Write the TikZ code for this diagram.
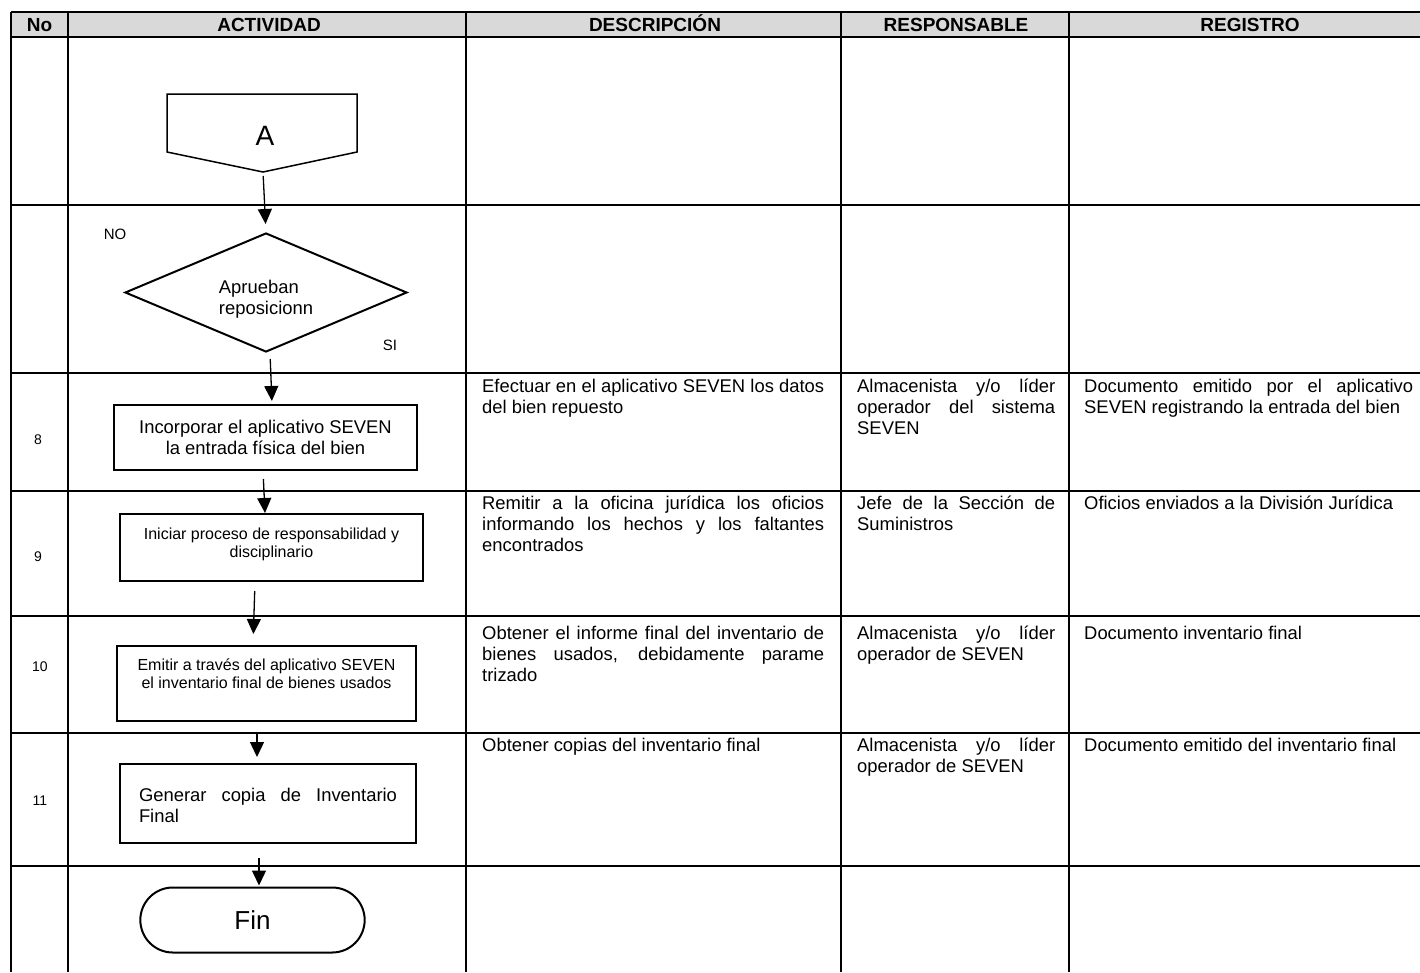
\documentclass[tikz,border=0pt]{standalone}
\usepackage{fontspec}
\setmainfont{Liberation Sans}
\usetikzlibrary{arrows.meta,shapes.geometric,shapes.misc}
\hyphenpenalty=10000
\tolerance=9999
\begin{document}
\begin{tikzpicture}[x=1pt, y=-1pt,
   tabline/.style={line width=2.7pt},
   flow/.style={line width=1.3pt, -{Triangle[width=14pt,length=15pt]}},
   actbox/.style={draw, line width=2pt, inner sep=0pt, align=center, font=\fontsize{18.4}{21}\selectfont},
   smalltxt/.style={font=\fontsize{16}{18}\selectfont},
   cell/.style={anchor=base west, inner sep=0pt, align=justify, font=\fontsize{18.4}{21}\selectfont},
   hdr/.style={anchor=base, font=\fontsize{19}{22}\selectfont\bfseries},
   numtxt/.style={font=\fontsize{14}{16}\selectfont}]
   \useasboundingbox (0,0) rectangle (1420,972);
   \fill[black!15] (11,12) rectangle (1431,37);
   \foreach \y in {12,37,205,373,491,616,733,866}
      \draw[tabline] (11,\y) -- (1431,\y);
   \foreach \x in {11,68,466,841,1069,1431}
      \draw[tabline] (\x,12) -- (\x,972);
   \node[hdr] (hNo) at (39.5,31.5) {No};
   \node[hdr] (hAct) at (269,31.5) {ACTIVIDAD};
   \node[hdr] (hDesc) at (655,31.5) {DESCRIPCIÓN};
   \node[hdr] (hResp) at (956,31.5) {RESPONSABLE};
   \node[hdr] (hReg) at (1250,31.5) {REGISTRO};

   \draw[line width=1.5pt] (167,94) -- (357,94) -- (357,152) -- (263,172) -- (167,152) -- cycle;
   \node[font=\fontsize{28}{30}\selectfont] (conA) at (265,136) {A};
   \coordinate (conAtip) at (263,172);

   \node[diamond, draw, line width=2pt, inner sep=0pt, aspect=2.37, minimum width=282pt, minimum height=119pt,
      align=left, text height=48pt, font=\fontsize{18.4}{21}\selectfont] (dec) at (266,292.5) {Aprueban\\reposicionn};
   \node[numtxt, font=\fontsize{15}{17}\selectfont] (lblNo) at (115,234) {NO};
   \node[numtxt, font=\fontsize{15}{17}\selectfont] (lblSi) at (390,345) {SI};

   \node[actbox, minimum width=303pt, minimum height=65pt] (act8) at (265.5,437.5)
      {Incorporar el aplicativo SEVEN\\la entrada física del bien};
   \node[actbox, smalltxt, minimum width=303pt, minimum height=67pt, text depth=9pt] (act9) at (271.5,547.5)
      {Iniciar proceso de responsabilidad y\\disciplinario};
   \node[actbox, smalltxt, minimum width=299pt, minimum height=75pt, text depth=19pt] (act10) at (266.5,683.5)
      {Emitir a través del aplicativo SEVEN\\el inventario final de bienes usados};
   \node[actbox, align=justify, text width=258pt, minimum width=296pt, minimum height=79pt, text depth=17pt] (act11) at (268,803.5)
      {Generar copia de Inventario\linebreak Final};
   \node[rounded rectangle, draw, line width=2pt, minimum width=231pt, minimum height=65pt,
      font=\fontsize{26}{28}\selectfont] (fin) at (252.5,920) {Fin};

   \draw[flow, shorten <=4pt, shorten >=8pt] (conAtip) -- (dec.north);
   \draw[flow, shorten <=6pt, shorten >=3pt] ([xshift=4pt]dec.south) -- ([xshift=6.5pt]act8.north);
   \draw[flow, shorten <=8pt] ([xshift=-2.5pt]act8.south) -- ([xshift=-6.5pt]act9.north);
   \draw[flow, shorten <=9pt, shorten >=11pt] ([xshift=-16.5pt]act9.south) -- ([xshift=-13.5pt]act10.north);
   \draw[flow, shorten <=11pt, shorten >=6pt] ([xshift=-9.5pt]act10.south) -- ([xshift=-11pt]act11.north);
   \draw[flow, shorten <=14pt, shorten >=1pt] ([xshift=-9pt]act11.south) -- ([xshift=6.5pt]fin.north);

   \node[numtxt] (n8) at (38,440) {8};
   \node[numtxt] (n9) at (38,557) {9};
   \node[numtxt] (n10) at (40,667) {10};
   \node[numtxt] (n11) at (40,801) {11};

   \node[cell, text width=342pt] (d8) at (482,392) {Efectuar en el aplicativo SEVEN los datos\linebreak del bien repuesto};
   \node[cell, text width=198pt] (r8) at (857,392) {Almacenista y/o líder\linebreak operador del sistema\linebreak SEVEN};
   \node[cell, text width=329pt] (g8) at (1084,392) {Documento emitido por el aplicativo\linebreak SEVEN registrando la entrada del bien};
   \node[cell, text width=342pt] (d9) at (482,509) {Remitir a la oficina jurídica los oficios\linebreak informando los hechos y los faltantes\linebreak encontrados};
   \node[cell, text width=198pt] (r9) at (857,509) {Jefe de la Sección de\linebreak Suministros};
   \node[cell, text width=329pt] (g9) at (1084,509) {Oficios enviados a la División Jurídica};
   \node[cell, text width=342pt] (d10) at (482,639) {Obtener el informe final del inventario de\linebreak bienes usados, debidamente parame\linebreak trizado};
   \node[cell, text width=198pt] (r10) at (857,639) {Almacenista y/o líder\linebreak operador de SEVEN};
   \node[cell, text width=329pt] (g10) at (1084,639) {Documento inventario final};
   \node[cell, text width=342pt] (d11) at (482,751) {Obtener copias del inventario final};
   \node[cell, text width=198pt] (r11) at (857,751) {Almacenista y/o líder\linebreak operador de SEVEN};
   \node[cell, text width=329pt] (g11) at (1084,751) {Documento emitido del inventario final};
\end{tikzpicture}
\end{document}
